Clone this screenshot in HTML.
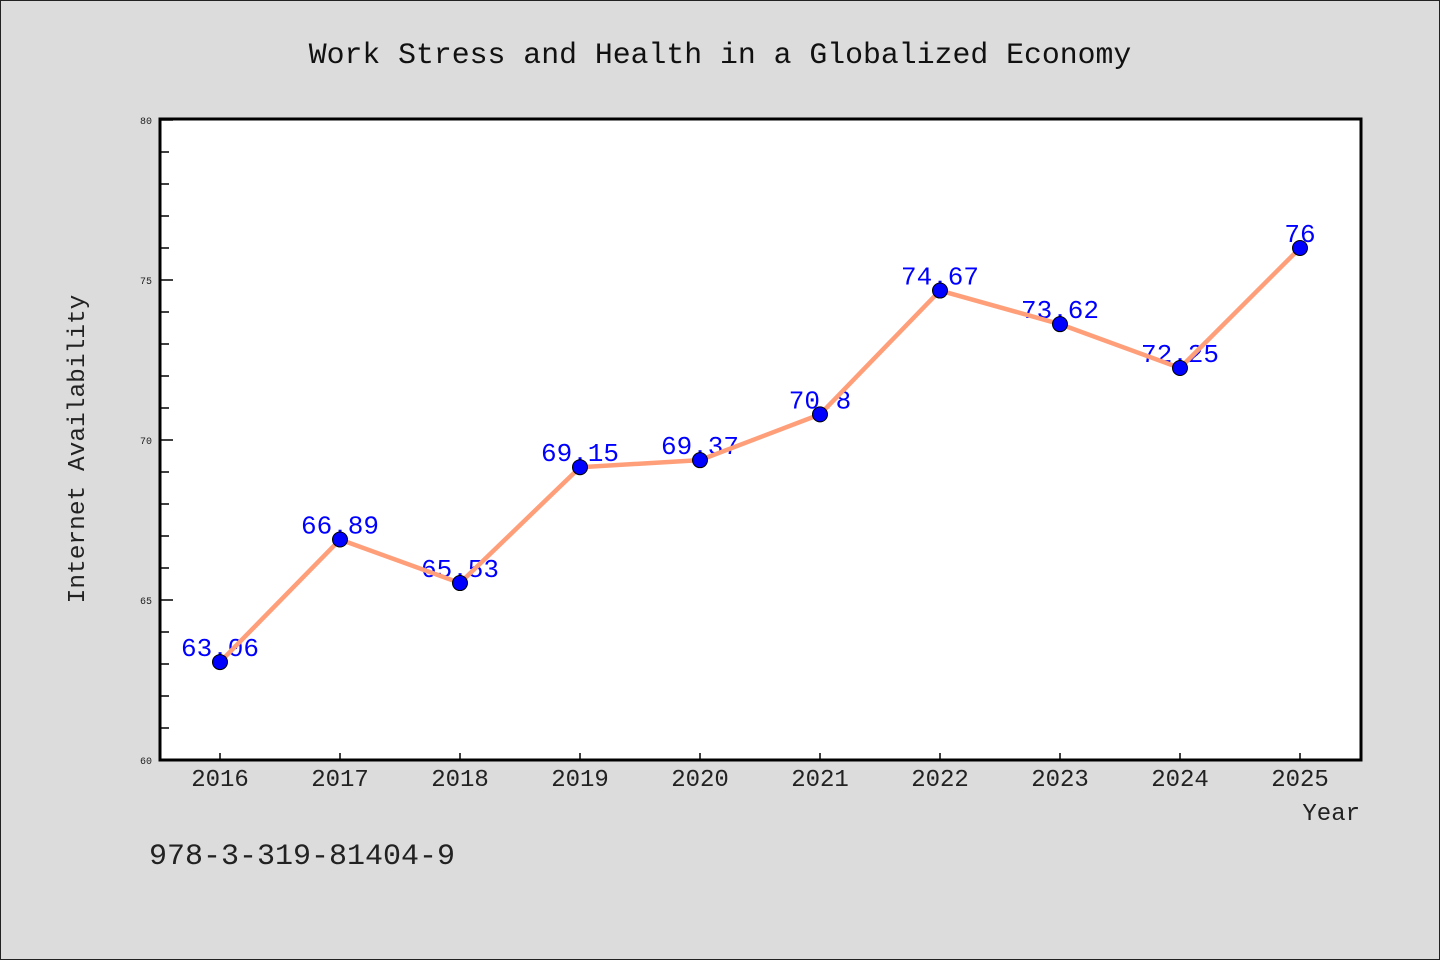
<!DOCTYPE html>
<html><head><meta charset="utf-8"><style>
html,body{margin:0;padding:0;background:#dcdcdc}
svg{display:block}
text{font-family:"Liberation Mono","DejaVu Sans Mono",monospace}
</style></head><body>
<svg id="chart" width="1440" height="960" xmlns="http://www.w3.org/2000/svg">
<rect x="0.5" y="0.5" width="1439" height="959" fill="#dcdcdc" stroke="#222"/>
<text x="720" y="63" text-anchor="middle" font-size="29.8" fill="#111">Work Stress and Health in a Globalized Economy</text>
<rect x="160" y="119" width="1201" height="641" fill="#fff"/>
<g id="yticks"></g><g id="xticks"></g>
<rect x="160" y="119" width="1201" height="641" fill="none" stroke="#000" stroke-width="3"/>
<text transform="translate(84,449) rotate(-90)" text-anchor="middle" font-size="24.5" fill="#222">Internet Availability</text>
<text x="1360" y="820" text-anchor="end" font-size="24" fill="#222">Year</text>
<text x="149" y="864" font-size="30" fill="#222">978-3-319-81404-9</text>
<g id="series"></g>
</svg>
<script>
const years=[2016,2017,2018,2019,2020,2021,2022,2023,2024,2025];
const values=[63.06,66.89,65.53,69.15,69.37,70.8,74.67,73.62,72.25,76];
const labels=["63.06","66.89","65.53","69.15","69.37","70.8","74.67","73.62","72.25","76"];
const yTicks=[60,65,70,75,80];
const NS="http://www.w3.org/2000/svg";
const X=y=>220+(y-2016)*120;
const Y=v=>760-(v-60)*32;
function mk(t,a,p){const e=document.createElementNS(NS,t);for(const k in a)e.setAttribute(k,a[k]);p.appendChild(e);return e;}
const yt=document.getElementById('yticks');
for(let v=60;v<=80;v++){
 const major=yTicks.includes(v);
 const l=mk('line',{x1:160,x2:major?173:169,y1:Y(v),y2:Y(v),stroke:'#000','stroke-width':1.5},yt);
 
 
 if(major){const t=mk('text',{x:152,y:Y(v)+4,'text-anchor':'end','font-size':10,fill:'#222'},yt);t.textContent=v;
 
 }
}
const xt=document.getElementById('xticks');
years.forEach(y=>{
 const l=mk('line',{x1:X(y),x2:X(y),y1:760,y2:753,stroke:'#000','stroke-width':1.5},xt);
 
 
 const t=mk('text',{x:X(y),y:786,'text-anchor':'middle','font-size':24,fill:'#222'},xt);t.textContent=y;
 
 
});
const s=document.getElementById('series');
values.forEach((v,i)=>{
 const t=mk('text',{x:X(years[i]),y:Y(v)-6,'text-anchor':'middle','font-size':26,fill:'#0000ff'},s);t.textContent=labels[i];
 
 
});
const pl=mk('polyline',{points:values.map((v,i)=>X(years[i])+','+Y(v)).join(' '),fill:'none',stroke:'#ff9f7a','stroke-width':4.5,'stroke-linejoin':'round'},s);


values.forEach((v,i)=>{
 const c=mk('circle',{cx:X(years[i]),cy:Y(v),r:7.5,fill:'#0000ff',stroke:'#000','stroke-width':1},s);
 
 
});
</script>
</body></html>
